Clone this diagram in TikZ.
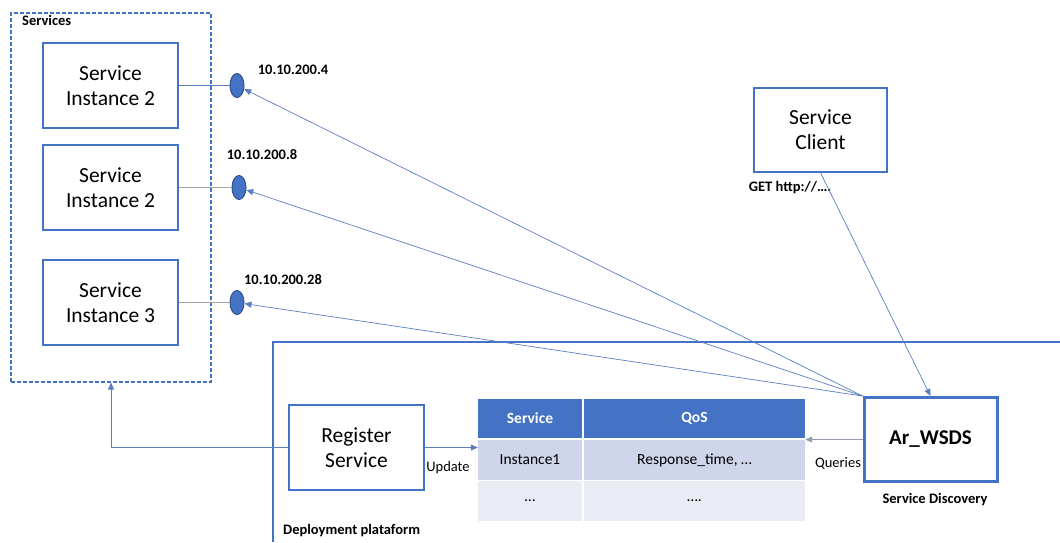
\documentclass[tikz,border=0pt]{standalone}
\usepackage{fontspec}
\setmainfont{Carlito}
\usetikzlibrary{shapes.geometric,arrows.meta}
\definecolor{boxblue}{HTML}{4472C4}
\definecolor{darkblue}{HTML}{2F528F}
\definecolor{lineblue}{HTML}{5B7EC0}
\definecolor{linegray}{HTML}{A5A5A5}
\definecolor{rowa}{HTML}{CFD5EA}
\definecolor{rowb}{HTML}{E9EBF5}
\tikzset{
  svcbox/.style={draw=boxblue, line width=1.4pt, minimum width=135pt, minimum height=85pt, align=center, inner sep=0pt, font=\fontsize{21.5}{25}\selectfont},
  lbl/.style={font=\bfseries\fontsize{14.5}{17}\selectfont, inner sep=0pt},
  plain/.style={font=\fontsize{14.5}{17}\selectfont, inner sep=0pt},
  ipdot/.style={ellipse, fill=boxblue, draw=darkblue, line width=1pt, minimum width=14pt, minimum height=24pt, inner sep=0pt},
  conn/.style={draw=lineblue, line width=0.7pt, -{Triangle[length=7pt,width=6pt]}},
  link/.style={draw=lineblue, line width=0.8pt},
  cell/.style={inner sep=0pt, font=\fontsize{15.5}{18}\selectfont},
}
\begin{document}
\begin{tikzpicture}[x=1pt,y=-1pt]
\useasboundingbox (0,0) rectangle (1060,542);
% services group
\node[draw=boxblue, dash pattern=on 4pt off 2pt, line width=1.1pt, minimum width=200pt, minimum height=369pt, inner sep=0pt] (services) at (111,197.5) {};
\node[lbl, anchor=west] (svclbl) at (22,20) {Services};
\node[svcbox] (i1) at (110.5,85.5) {Service\\Instance 2};
\node[svcbox] (i2) at (110.5,187.5) {Service\\Instance 2};
\node[svcbox] (i3) at (110.5,302.5) {Service\\Instance 3};
% ip endpoints
\node[ipdot] (e1) at (237,85.5) {};
\node[ipdot] (e2) at (239,187.5) {};
\node[ipdot] (e3) at (237,302.5) {};
\node[lbl] (l1) at (293,70) {10.10.200.4};
\node[lbl] (l2) at (262,155) {10.10.200.8};
\node[lbl] (l3) at (283,280) {10.10.200.28};
\draw[link] (i1.east) -- (e1.west);
\draw[draw=linegray, line width=0.9pt] (i2.east) -- (e2.west);
\draw[draw=linegray, line width=0.9pt] (i3.east) -- (e3.west);
% deployment platform
\draw[draw=boxblue, line width=1.6pt] (273,542) -- (273,342) -- (1060,342);
\node[lbl, anchor=west] (dep) at (283,531) {Deployment plataform};
% register service
\node[svcbox] (reg) at (356.5,447.5) {Register\\Service};
% table
\node[cell, fill=boxblue, text=white, font=\bfseries\fontsize{15.5}{18}\selectfont, minimum width=104pt, minimum height=39pt] (h1) at (530,418.5) {Service};
\node[cell, fill=boxblue, text=white, font=\bfseries\fontsize{15.5}{18}\selectfont, minimum width=221pt, minimum height=39pt] (h2) at (694.5,418.5) {QoS};
\node[cell, fill=rowa, minimum width=104pt, minimum height=40pt] (r1a) at (530,460) {Instance1};
\node[cell, fill=rowa, minimum width=221pt, minimum height=40pt] (r1b) at (694.5,460) {Response\_time, …};
\node[cell, fill=rowb, minimum width=104pt, minimum height=40pt] (r2a) at (530,501) {…};
\node[cell, fill=rowb, minimum width=221pt, minimum height=40pt] (r2b) at (694.5,501) {….};
% service client
\node[svcbox, minimum width=133pt, minimum height=84pt] (client) at (820.5,130) {Service\\Client};
\node[lbl] (get) at (790,188) {GET http://….};
% discovery
\node[draw=boxblue, line width=3pt, minimum width=133pt, minimum height=84pt, inner sep=0pt, font=\bfseries\fontsize{21}{25}\selectfont] (wsds) at (930.5,439.5) {Ar\_WSDS};
\node[lbl] (disc) at (935,500) {Service Discovery};
% connectors
\draw[conn] (reg.west) -| (services.south);
\draw[conn] (reg.east) -- (reg.east -| r1a.west);
\node[plain] (upd) at (448,468) {Update};
\draw[conn, draw=linegray!80!lineblue] (wsds.west) -- (wsds.west -| h2.east);
\node[plain] (qry) at (838,463) {Queries};
\draw[conn] (client.south) -- (wsds.north);
\draw[conn] (wsds.north west) -- (e1);
\draw[conn] (wsds.north west) -- (e2);
\draw[conn] (wsds.north west) -- (e3);
\end{tikzpicture}
\end{document}
